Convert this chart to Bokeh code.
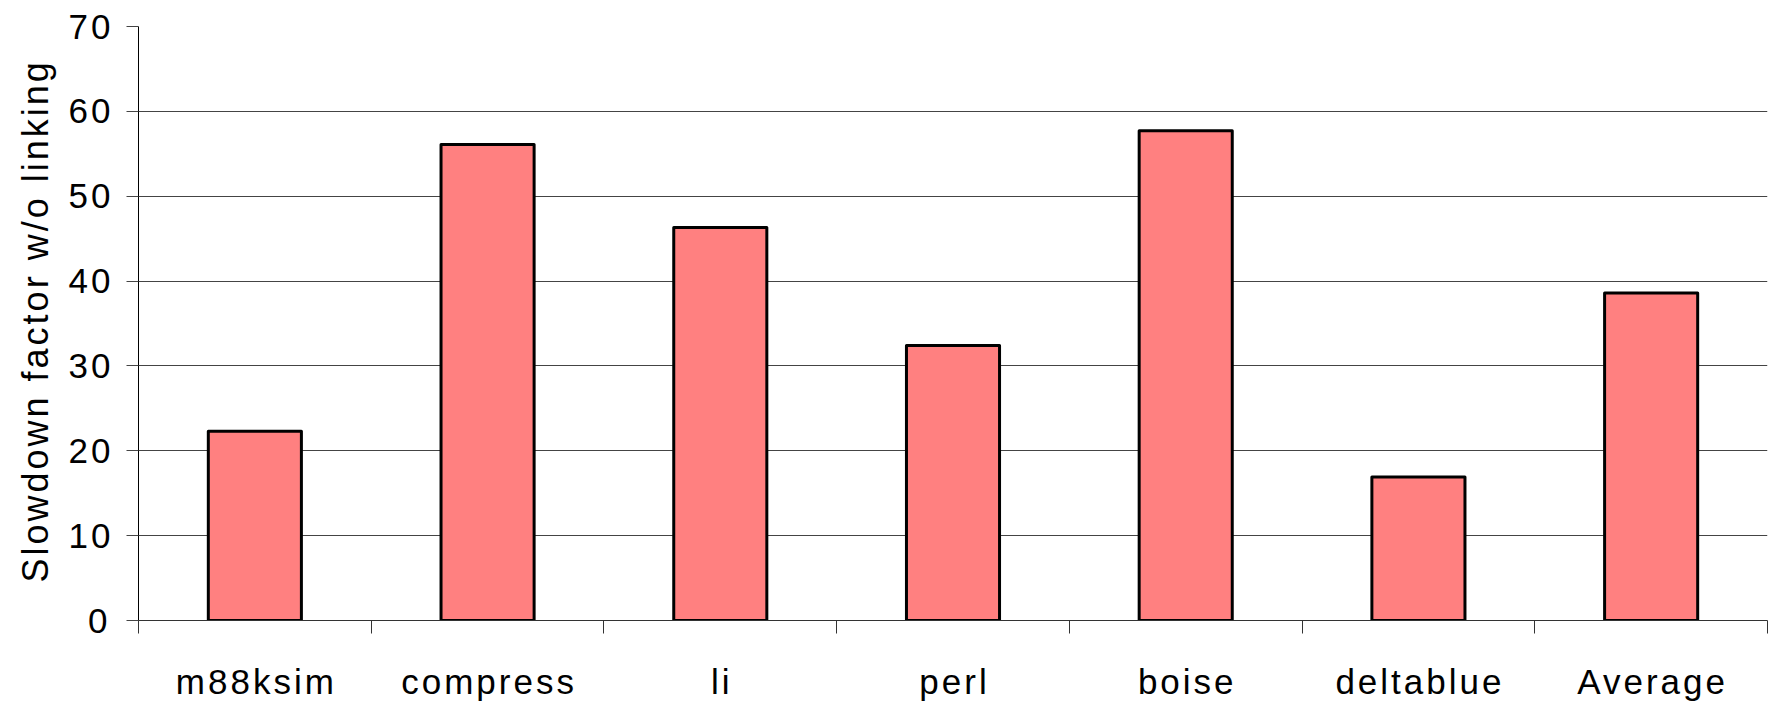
from bokeh.plotting import figure
from bokeh.models import (Range1d, FixedTicker, ColumnDataSource,
                          InlineStyleSheet, Title)
from bokeh.embed import file_html
from bokeh.resources import INLINE

# Benchmarks and their slowdown factor when running without linking
benchmarks = ["m88ksim", "compress", "li", "perl", "boise", "deltablue", "Average"]
slowdown = [22.3, 56.1, 46.3, 32.4, 57.7, 16.9, 38.6]
y_ticks = [0, 10, 20, 30, 40, 50, 60, 70]
y_title = "Slowdown factor w/o linking"

FONT = "Liberation Sans"
SPACING = 3  # px of extra letter spacing for all chart text

W, H = 1773, 704
BORDER_L, BORDER_R, BORDER_T, BORDER_B = 138, 6, 26, 84

centers = [i + 0.5 for i in range(len(benchmarks))]
source = ColumnDataSource(data=dict(x=centers, top=slowdown, name=benchmarks))

p = figure(
    width=W, height=H,
    x_range=Range1d(0, len(benchmarks)),
    y_range=Range1d(0, 70),
    output_backend="svg", toolbar_location=None,
    min_border_left=BORDER_L, min_border_right=BORDER_R,
    min_border_top=BORDER_T, min_border_bottom=BORDER_B,
)
p.outline_line_color = None
p.background_fill_color = "white"
p.border_fill_color = "white"
p.stylesheets = [InlineStyleSheet(css=f":host {{ letter-spacing: {SPACING}px; }}")]

p.vbar(x="x", top="top", width=0.40, source=source,
       fill_color="#FF8080", line_color="black", line_width=3,
       line_join="round")

# y axis: values every 10, horizontal grid lines
p.yaxis.ticker = FixedTicker(ticks=y_ticks)
p.yaxis.major_label_text_font = FONT
p.yaxis.major_label_text_font_size = "35px"
p.yaxis.major_label_text_color = "black"
p.yaxis.major_label_standoff = 19
p.yaxis.major_tick_out = 12
p.yaxis.major_tick_in = 0
p.yaxis.major_tick_line_color = "#444444"
p.yaxis.minor_tick_line_color = None
p.yaxis.axis_line_color = "black"
p.yaxis.axis_line_width = 1

p.ygrid.grid_line_color = "#444444"
p.ygrid.grid_line_width = 1.2
p.xgrid.grid_line_color = None

# vertical axis title, left of the tick labels
p.add_layout(Title(
    text=y_title, align="left", vertical_align="top", offset=38, standoff=16,
    text_font=FONT, text_font_size="36px", text_font_style="normal",
    text_color="black",
), "left")

# x axis: boundary tick marks, names centred under the bars
# (label anchors nudged left by half of the added letter spacing)
px_per_unit = (W - BORDER_L - BORDER_R) / len(benchmarks)
label_pos = [c - (len(b) - 1) * SPACING / 2 / px_per_unit
             for c, b in zip(centers, benchmarks)]
p.xaxis.ticker = FixedTicker(ticks=label_pos,
                             minor_ticks=list(range(len(benchmarks) + 1)))
p.xaxis.major_label_overrides = {x: b for x, b in zip(label_pos, benchmarks)}
p.xaxis.major_tick_out = 0
p.xaxis.major_tick_in = 0
p.xaxis.minor_tick_out = 13
p.xaxis.minor_tick_in = 0
p.xaxis.minor_tick_line_color = "#333333"
p.xaxis.axis_line_color = "#333333"
p.xaxis.major_label_text_font = FONT
p.xaxis.major_label_text_font_size = "35px"
p.xaxis.major_label_text_color = "black"
p.xaxis.major_label_standoff = 28

open("out.html", "w").write(file_html(p, INLINE))
